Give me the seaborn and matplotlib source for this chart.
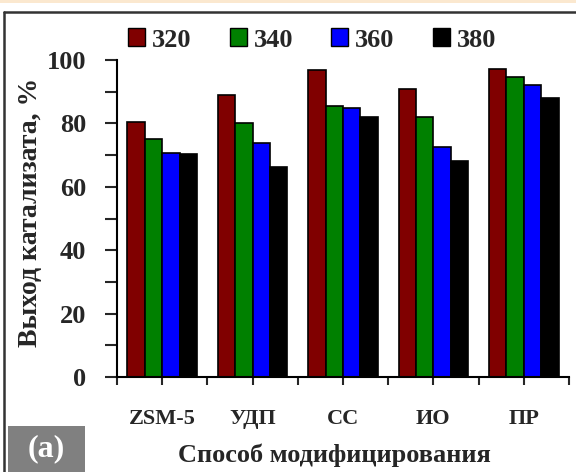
import matplotlib
matplotlib.use("Agg")
import matplotlib.pyplot as plt
from matplotlib.patches import Rectangle
from matplotlib.lines import Line2D
from matplotlib.ticker import MultipleLocator
import numpy as np
import pandas as pd
import seaborn as sns

# Catalyst yield (%) by modification method and temperature
methods = ["ZSM-5", "УДП", "СС", "ИО", "ПР"]
temperatures = ["320", "340", "360", "380"]
yield_320 = [80.5, 89.0, 97.0, 90.7, 97.2]
yield_340 = [75.0, 80.2, 85.5, 82.0, 94.7]
yield_360 = [70.8, 73.7, 85.0, 72.7, 92.1]
yield_380 = [70.2, 66.3, 82.0, 68.1, 87.9]
colors = ["#800000", "#008000", "#0000FF", "#000000"]

df = pd.DataFrame({
    "method": methods * 4,
    "temp": np.repeat(temperatures, len(methods)),
    "value": yield_320 + yield_340 + yield_360 + yield_380,
})

sns.set_theme(style="white")
plt.rcParams["font.family"] = ["Liberation Serif", "DejaVu Serif"]
plt.rcParams["font.weight"] = "bold"

fig = plt.figure(figsize=(5.76, 4.72), dpi=100)
ax = fig.add_axes([117 / 576, 1 - 377 / 472, 452 / 576, 317 / 472])

sns.barplot(data=df, x="method", y="value", hue="temp", order=methods,
            hue_order=temperatures, palette=colors, width=0.77,
            edgecolor="black", linewidth=1.2, saturation=1, ax=ax,
            legend=False)

ax.set_xlim(-0.5, len(methods) - 0.5)
ax.set_ylim(0, 100)
ax.yaxis.set_major_locator(MultipleLocator(20))
ax.yaxis.set_minor_locator(MultipleLocator(10))
ax.set_xticks(np.arange(-0.5, len(methods)), minor=True)
ax.tick_params(axis="y", which="both", direction="out", length=9, width=1.5,
               pad=13, labelsize=19, left=True)
ax.tick_params(axis="x", which="both", direction="out", length=6, width=1.5,
               pad=17, labelsize=16, bottom=True)
for lbl in ax.get_xticklabels() + ax.get_yticklabels():
    lbl.set_fontweight("bold")

for side in ("top", "right"):
    ax.spines[side].set_visible(False)
for side in ("left", "bottom"):
    ax.spines[side].set_color("black")
    ax.spines[side].set_linewidth(1.5)

ax.set_xlabel("")
ax.set_ylabel("")
fig.text(334 / 576, 1 - 455 / 472, "Способ модифицирования", fontsize=19,
         fontweight="bold", ha="center", va="center")
fig.text(31 / 576, 1 - 212 / 472, "Выход катализата, %", fontsize=20,
         fontweight="bold", ha="center", va="center", rotation=90)

handles = [Rectangle((0, 0), 1, 1, facecolor=c, edgecolor="black", linewidth=1.0)
           for c in colors]
fig.legend(handles, temperatures, loc="center", bbox_to_anchor=(312 / 576, 1 - 40 / 472),
           ncol=4, frameon=False, fontsize=19, handlelength=0.65, handleheight=0.65,
           handletextpad=0.25, columnspacing=1.45)

# Frame around the chart and decorative top band
fig.patches.append(Rectangle((0, 1 - 3 / 472), 1, 3 / 472, transform=fig.transFigure,
                             facecolor="#fbe8cf", edgecolor="none"))
fig.add_artist(Line2D([4 / 576, 1], [1 - 12 / 472, 1 - 12 / 472], transform=fig.transFigure,
                      color="#333333", linewidth=1.8))
fig.add_artist(Line2D([4 / 576, 4 / 576], [0, 1 - 12 / 472], transform=fig.transFigure,
                      color="#333333", linewidth=1.8))

# Panel tag
fig.patches.append(Rectangle((8 / 576, 0), 77 / 576, 46 / 472, transform=fig.transFigure,
                             facecolor="#808080", edgecolor="none"))
fig.text(46 / 576, 1 - 449 / 472, "(a)", color="white", fontsize=23, fontweight="bold",
         ha="center", va="center")

fig.savefig("out.png", dpi=100)
